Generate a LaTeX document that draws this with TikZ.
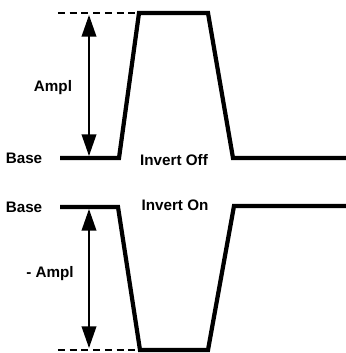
\documentclass[tikz,border=0pt]{standalone}
\usepackage{fontspec}
\setmainfont{Liberation Sans}
\usetikzlibrary{arrows.meta}

\begin{document}
\begin{tikzpicture}[
    x=0.03cm,
    y=-0.03cm,
    font=\bfseries\fontsize{13}{15}\selectfont,
    wave/.style={draw=black, line width=3.6pt, line join=miter},
    level/.style={draw=black, line width=2.2pt, dash pattern=on 6pt off 4pt},
    span/.style={draw=black, line width=1.4pt, {Triangle[width=0.44cm, length=0.65cm]}-{Triangle[width=0.44cm, length=0.65cm]}},
    lbl/.style={inner sep=1pt}
]
    \useasboundingbox (0,0) rectangle (346,353);

    % --- Invert off ---
    \coordinate (offstart) at (60,158);
    \coordinate (offrise) at (119,158);
    \coordinate (offtopl) at (139,13);
    \coordinate (offtopr) at (208,13);
    \coordinate (offfall) at (233,158);
    \coordinate (offend) at (346,158);
    \draw[wave] (offstart) -- (offrise) -- (offtopl) -- (offtopr) -- (offfall) -- (offend);
    \coordinate (offdash) at (58,13);
    \draw[level] (offdash) -- (offtopl);
    \coordinate (offarrtop) at (89,15);
    \coordinate (offarrbot) at (89,156);
    \draw[span] (offarrtop) -- (offarrbot);
    \node[lbl] (offbase) at (24,158) {Base};
    \node[lbl] (offampl) at (53,88) {Ampl};
    \node[lbl] (offname) at (174,160) {Invert Off};

    % --- Invert on ---
    \coordinate (onstart) at (60,207);
    \coordinate (onfall) at (118,207);
    \coordinate (onbotl) at (140,350);
    \coordinate (onbotr) at (208,350);
    \coordinate (onrise) at (234,206);
    \coordinate (onend) at (346,206);
    \draw[wave] (onstart) -- (onfall) -- (onbotl) -- (onbotr) -- (onrise) -- (onend);
    \coordinate (ondash) at (58,350);
    \draw[level] (ondash) -- (onbotl);
    \coordinate (onarrtop) at (89,209);
    \coordinate (onarrbot) at (89,348);
    \draw[span] (onarrtop) -- (onarrbot);
    \node[lbl] (onbase) at (24,207) {Base};
    \node[lbl] (onampl) at (50,274) {- Ampl};
    \node[lbl] (onname) at (175,205) {Invert On};
\end{tikzpicture}
\end{document}
